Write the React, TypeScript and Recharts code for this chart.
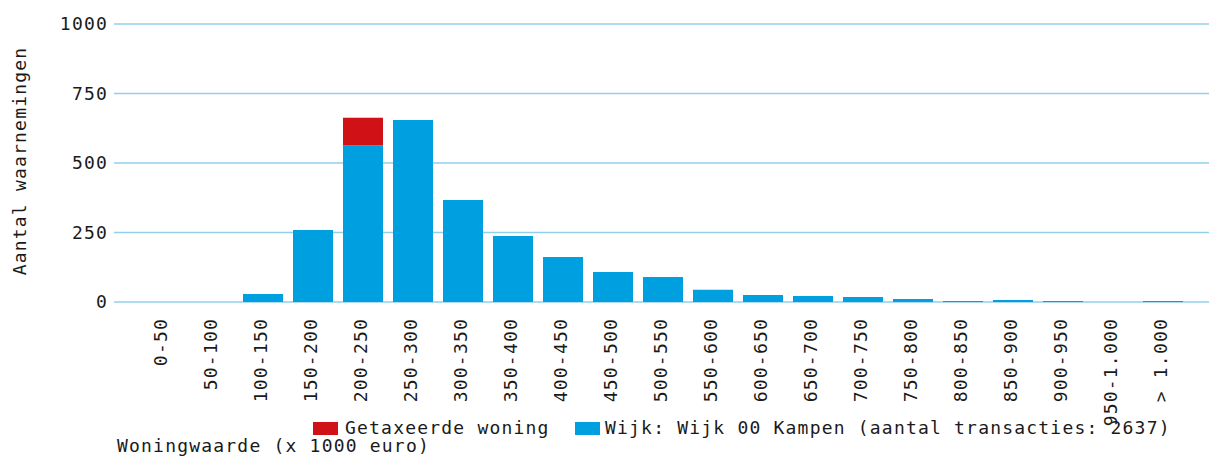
import React from 'react';
import { BarChart, Bar, XAxis, YAxis, CartesianGrid } from 'recharts';

const categories = [
  '0-50', '50-100', '100-150', '150-200', '200-250', '250-300', '300-350',
  '350-400', '400-450', '450-500', '500-550', '550-600', '600-650', '650-700',
  '700-750', '750-800', '800-850', '850-900', '900-950', '950-1.000', '> 1.000',
];
const wijkValues = [0, 0, 29, 259, 563, 655, 367, 237, 162, 108, 90, 44, 25, 22, 18, 11, 4, 7, 4, 0, 4];
const getaxeerdValues = [0, 0, 0, 0, 100, 0, 0, 0, 0, 0, 0, 0, 0, 0, 0, 0, 0, 0, 0, 0, 0];
const yTicks = [0, 250, 500, 750, 1000];

const seriesNames = {
  getaxeerd: 'Getaxeerde woning',
  wijk: 'Wijk: Wijk 00 Kampen (aantal transacties: 2637)',
};
const xTitle = 'Woningwaarde (x 1000 euro)';
const yTitle = 'Aantal waarnemingen';

const BLUE = '#009FE0';
const RED = '#D01217';
const GRID = '#92CFEA';
const FONT = '"DejaVu Sans Mono", "Liberation Mono", monospace';
const FS = 18;
const LS = 1.2;

const data = categories.map((c, i) => ({
  cat: c,
  wijk: wijkValues[i],
  getaxeerd: getaxeerdValues[i],
}));

const XTick = (props: any) => {
  const { x, y, payload } = props;
  const ty = y + 8;
  return (
    <text
      x={x}
      y={ty}
      dy={4}
      transform={`rotate(-90, ${x}, ${ty})`}
      textAnchor="end"
      fill="#1a1a1a"
      fontFamily={FONT}
      fontSize={FS}
      letterSpacing={LS}
    >
      {payload.value}
    </text>
  );
};

const textStyle: React.CSSProperties = {
  position: 'absolute',
  fontFamily: FONT,
  fontSize: FS,
  letterSpacing: LS,
  color: '#1a1a1a',
  whiteSpace: 'nowrap',
  lineHeight: '18px',
};

export default function App() {
  return (
    <div style={{ position: 'absolute', left: 0, top: 0, width: 1209, height: 457, background: '#fff' }}>
      <BarChart
        width={1209}
        height={457}
        data={data}
        margin={{ top: 24, right: 0, bottom: 55, left: 0 }}
        barSize={40}
      >
        <CartesianGrid vertical={false} stroke={GRID} strokeWidth={1.5} />
        <XAxis
          dataKey="cat"
          interval={0}
          height={100}
          padding={{ left: 24, right: 21 }}
          axisLine={false}
          tickLine={false}
          tick={<XTick />}
        />
        <YAxis
          width={114}
          domain={[0, 1000]}
          ticks={yTicks}
          axisLine={false}
          tickLine={false}
          tickSize={0}
          tickMargin={6}
          tick={{ fill: '#1a1a1a', fontFamily: FONT, fontSize: FS, letterSpacing: LS }}
        />
        <Bar dataKey="wijk" stackId="a" fill={BLUE} isAnimationActive={false} name={seriesNames.wijk} />
        <Bar dataKey="getaxeerd" stackId="a" fill={RED} isAnimationActive={false} name={seriesNames.getaxeerd} />
      </BarChart>

      <div
        style={{
          ...textStyle,
          left: 20,
          top: 161,
          transform: 'translate(-50%, -50%) rotate(-90deg)',
        }}
      >
        {yTitle}
      </div>

      <div style={{ position: 'absolute', left: 313, top: 422, width: 25, height: 13, background: RED }} />
      <div style={{ ...textStyle, left: 345, top: 419 }}>{seriesNames.getaxeerd}</div>
      <div style={{ position: 'absolute', left: 575, top: 422, width: 25, height: 13, background: BLUE }} />
      <div style={{ ...textStyle, left: 605, top: 419 }}>{seriesNames.wijk}</div>

      <div style={{ ...textStyle, left: 117, top: 437 }}>{xTitle}</div>
    </div>
  );
}
